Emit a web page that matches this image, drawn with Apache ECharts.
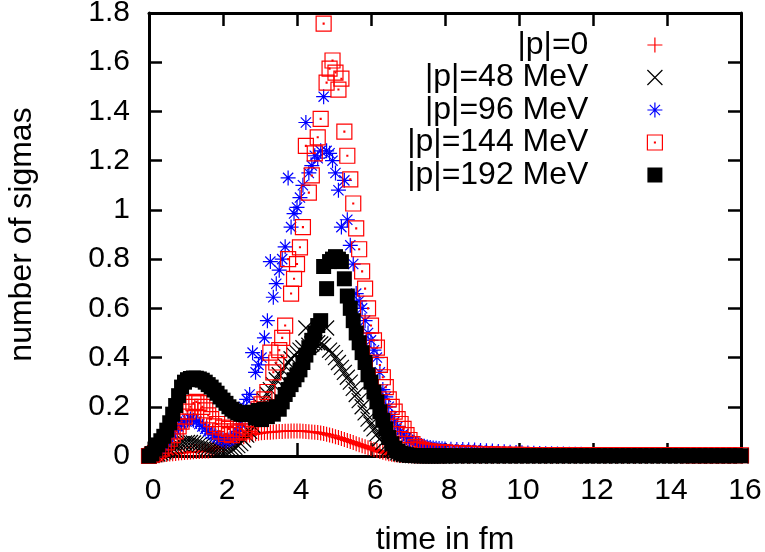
<!DOCTYPE html>
<html><head><meta charset="utf-8">
<script src="https://cdn.jsdelivr.net/npm/echarts@6/dist/echarts.min.js"></script>
<style>html,body{margin:0;padding:0;background:#fff}#c{width:765px;height:552px}</style>
</head><body><div id="c"></div>
<script>
const times = [
0,0.08,0.16,0.24,0.32,0.4,0.48,0.56,0.64,0.72,
0.8,0.88,0.96,1.04,1.12,1.2,1.28,1.36,1.44,1.52,
1.6,1.68,1.76,1.84,1.92,2,2.08,2.16,2.24,2.32,
2.4,2.48,2.56,2.64,2.72,2.8,2.88,2.96,3.04,3.12,
3.2,3.28,3.36,3.44,3.52,3.6,3.68,3.76,3.84,3.92,
4,4.08,4.16,4.24,4.32,4.4,4.48,4.56,4.64,4.72,
4.8,4.88,4.96,5.04,5.12,5.2,5.28,5.36,5.44,5.52,
5.6,5.68,5.76,5.84,5.92,6,6.08,6.16,6.24,6.32,
6.4,6.48,6.56,6.64,6.72,6.8,6.88,6.96,7.04,7.12,
7.2,7.28,7.36,7.44,7.52,7.6,7.68,7.76,7.84,7.92,
8,
8.16,8.32,8.48,8.64,8.8,8.96,9.12,9.28,9.44,9.6,
9.76,9.92,10.08,10.24,10.4,10.56,10.72,10.88,11.04,11.2,
11.36,11.52,11.68,11.84,12,12.16,12.32,12.48,12.64,12.8,
12.96,13.12,13.28,13.44,13.6,13.76,13.92,14.08,14.24,14.4,
14.56,14.72,14.88,15.04,15.2,15.36,15.52,15.68,15.84,16];
const sig_p0 = [
0,0.001,0.002,0.003,0.004,0.005,0.006,0.008,0.009,0.01,
0.012,0.013,0.014,0.015,0.016,0.017,0.018,0.018,0.019,0.02,
0.02,0.025,0.03,0.035,0.04,0.045,0.05,0.055,0.06,0.065,
0.07,0.074,0.078,0.082,0.085,0.088,0.09,0.092,0.094,0.095,
0.096,0.097,0.098,0.099,0.1,0.1,0.101,0.101,0.102,0.102,
0.102,0.102,0.101,0.1,0.099,0.098,0.097,0.095,0.093,0.091,
0.088,0.085,0.082,0.078,0.075,0.071,0.067,0.063,0.059,0.055,
0.05,0.046,0.042,0.038,0.034,0.03,0.026,0.022,0.018,0.015,
0.012,0.009,0.007,0.005,0.004,0.003,0.002,0.002,0.001,0.001,
0,0,0,0,0,0,0,0,0,0,
0,
0,0,0,0,0,0,0,0,0,0,
0,0,0,0,0,0,0,0,0,0,
0,0,0,0,0,0,0,0,0,0,
0,0,0,0,0,0,0,0,0,0,
0,0,0,0,0,0,0,0,0,0];
const sig_p48 = [
0,0.002,0.005,0.008,0.012,0.017,0.022,0.028,0.034,0.04,
0.045,0.05,0.053,0.055,0.055,0.053,0.05,0.046,0.042,0.038,
0.034,0.03,0.027,0.025,0.024,0.024,0.025,0.027,0.03,0.035,
0.042,0.05,0.065,0.085,0.1,0.125,0.15,0.17,0.2,0.225,
0.25,0.27,0.29,0.31,0.33,0.35,0.365,0.38,0.395,0.41,
0.42,0.43,0.44,0.52,0.45,0.455,0.46,0.46,0.455,0.45,
0.52,0.43,0.42,0.4,0.38,0.36,0.34,0.32,0.3,0.275,
0.25,0.225,0.2,0.175,0.15,0.13,0.11,0.09,0.07,0.055,
0.042,0.032,0.024,0.018,0.013,0.009,0.006,0.004,0.003,0.002,
0.001,0.001,0,0,0,0,0,0,0,0,
0,
0,0,0,0,0,0,0,0,0,0,
0,0,0,0,0,0,0,0,0,0,
0,0,0,0,0,0,0,0,0,0,
0,0,0,0,0,0,0,0,0,0,
0,0,0,0,0,0,0,0,0,0];
const sig_p96 = [
0,0.003,0.008,0.015,0.025,0.04,0.055,0.07,0.09,0.105,
0.12,0.13,0.14,0.145,0.15,0.145,0.14,0.13,0.12,0.11,
0.1,0.09,0.085,0.075,0.07,0.065,0.06,0.065,0.07,0.08,
0.1,0.13,0.2,0.23,0.25,0.42,0.34,0.37,0.4,0.48,
0.55,0.79,0.645,0.7,0.755,0.8,0.85,1.13,0.93,0.985,
1.01,1.05,1.1,1.355,1.15,1.18,1.22,1.21,1.24,1.46,
1.24,1.23,1.2,1.15,1.08,0.93,1.12,0.96,0.856,0.78,
0.66,0.63,0.6,0.55,0.5,0.47,0.43,0.4,0.34,0.27,
0.24,0.2,0.16,0.14,0.12,0.1,0.09,0.075,0.065,0.057,
0.05,0.046,0.043,0.04,0.037,0.035,0.033,0.031,0.03,0.029,
0.028,
0.027,0.026,0.026,0.025,0.024,0.022,0.021,0.02,0.018,0.017,
0.015,0.014,0.013,0.012,0.011,0.01,0.009,0.009,0.008,0.008,
0.007,0.007,0.007,0.006,0.006,0.006,0.006,0.005,0.005,0.005,
0.005,0.005,0.005,0.005,0.004,0.004,0.004,0.004,0.004,0.004,
0.004,0.004,0.004,0.004,0.004,0.004,0.004,0.004,0.004,0.004];
const sig_p144 = [
0,0.005,0.012,0.02,0.03,0.042,0.055,0.07,0.085,0.1,
0.12,0.14,0.16,0.18,0.2,0.215,0.22,0.215,0.2,0.185,
0.165,0.15,0.12,0.13,0.1,0.115,0.09,0.11,0.085,0.1,
0.095,0.11,0.1,0.12,0.13,0.15,0.17,0.19,0.21,0.23,
0.26,0.42,0.34,0.38,0.43,0.48,0.53,0.8,0.66,0.72,
0.78,0.848,0.93,1.26,1.07,1.14,1.23,1.295,1.37,1.757,
1.517,1.574,1.607,1.558,1.489,1.533,1.318,1.22,1.124,1.026,
0.925,0.84,0.75,0.68,0.6,0.53,0.47,0.44,0.37,0.32,
0.28,0.23,0.2,0.18,0.15,0.13,0.11,0.085,0.065,0.048,
0.037,0.03,0.025,0.022,0.02,0.018,0.017,0.016,0.015,0.015,
0.014,
0.013,0.012,0.011,0.01,0.009,0.008,0.008,0.007,0.006,0.006,
0.005,0.005,0.005,0.004,0.004,0.004,0.004,0.004,0.004,0.004,
0.004,0.004,0.004,0.004,0.004,0.004,0.004,0.004,0.004,0.004,
0.004,0.004,0.004,0.004,0.004,0.004,0.004,0.004,0.004,0.004,
0.003,0.003,0.003,0.003,0.003,0.003,0.003,0.003,0.003,0.003];
const sig_p192 = [
0,0.01,0.028,0.045,0.062,0.08,0.105,0.135,0.17,0.205,
0.245,0.28,0.3,0.31,0.315,0.317,0.316,0.313,0.308,0.3,
0.29,0.28,0.268,0.255,0.24,0.227,0.214,0.2,0.19,0.182,
0.175,0.17,0.168,0.172,0.176,0.178,0.155,0.185,0.148,0.19,
0.16,0.19,0.17,0.2,0.19,0.22,0.25,0.27,0.29,0.31,
0.33,0.35,0.38,0.41,0.44,0.47,0.5,0.53,0.55,0.77,
0.68,0.79,0.8,0.81,0.8,0.79,0.72,0.65,0.6,0.55,
0.5,0.46,0.42,0.38,0.33,0.3,0.26,0.22,0.18,0.145,
0.11,0.075,0.05,0.032,0.02,0.012,0.008,0.005,0.003,0.002,
0.002,0.001,0.001,0.001,0.001,0.001,0.001,0.001,0.001,0.001,
0.001,
0.001,0.001,0.001,0.001,0.001,0.001,0.001,0.001,0.001,0.001,
0.001,0.001,0.001,0.001,0.001,0.001,0.001,0.001,0.001,0.001,
0.001,0.001,0.001,0.001,0.001,0.001,0.001,0.001,0.001,0.001,
0.001,0.001,0.001,0.001,0.001,0.001,0.001,0.001,0.001,0.001,
0.001,0.001,0.001,0.001,0.001,0.001,0.001,0.001,0.001,0.001];

const seriesNames = ['|p|=0', '|p|=48 MeV', '|p|=96 MeV', '|p|=144 MeV', '|p|=192 MeV'];
const xTickLabels = [0, 2, 4, 6, 8, 10, 12, 14, 16];
const yTickLabels = [0, 0.2, 0.4, 0.6, 0.8, 1, 1.2, 1.4, 1.6, 1.8];
const xTitle = 'time in fm';
const yTitle = 'number of sigmas';

const allValues = [sig_p0, sig_p48, sig_p96, sig_p144, sig_p192];
const FONT = "'Liberation Sans', Arial, Helvetica, sans-serif";
const symbols = [
  'path://M0,5L10,5M5,0L5,10',
  'path://M0,0L10,10M10,0L0,10',
  'path://M5,0L5,10M0,5L10,5M1.6,1.6L8.4,8.4M8.4,1.6L1.6,8.4',
  'path://M0,0L10,0L10,10L0,10ZM4.7,4.7L5.3,4.7L5.3,5.3L4.7,5.3Z',
  'rect'
];
const colors = ['#ff0000', '#000000', '#0000ff', '#ff0000', '#000000'];
const filled = [false, false, false, false, true];

const xMin = xTickLabels[0], xMax = xTickLabels[xTickLabels.length - 1], xInt = xTickLabels[1] - xTickLabels[0];
const yMin = yTickLabels[0], yMax = yTickLabels[yTickLabels.length - 1], yInt = 0.2;

const chart = echarts.init(document.getElementById('c'), null, {renderer: 'canvas'});
const axisLineStyle = {show: true, onZero: false, lineStyle: {color: '#000', width: 3}};
const tickStyle = {show: true, inside: true, length: 13, lineStyle: {color: '#000', width: 2.5}};

const series = allValues.map((vals, k) => ({
  type: 'scatter', name: seriesNames[k],
  data: times.map((t, i) => [t, vals[i]]),
  symbol: symbols[k], symbolSize: 15, clip: false, animation: false,
  emphasis: {disabled: true},
  itemStyle: filled[k]
    ? {color: colors[k], borderWidth: 0, opacity: 1}
    : {color: 'rgba(0,0,0,0)', borderColor: colors[k], borderWidth: 1.2, opacity: 1}
}));

chart.setOption({
  animation: false,
  backgroundColor: '#fff',
  grid: {left: 149, right: 24, top: 13, bottom: 96, containLabel: false, outerBoundsMode: 'none'},
  legend: {
    orient: 'vertical', right: 102, top: 29, align: 'right',
    itemWidth: 15, itemHeight: 15, itemGap: 0.5, padding: 0, selectedMode: false,
    textStyle: {fontSize: 32, fontFamily: FONT, color: '#000', padding: [0, 54, 0, 0]},
    itemStyle: {borderWidth: 1.2},
    data: seriesNames.map((n, k) => ({name: n, icon: symbols[k]}))
  },
  xAxis: [{
    type: 'value', min: xMin, max: xMax, interval: xInt, position: 'bottom',
    axisLine: axisLineStyle, axisTick: tickStyle, splitLine: {show: false},
    axisLabel: {fontSize: 30, fontFamily: FONT, color: '#000', margin: 20, padding: [0, 0, 0, 8]},
    name: xTitle, nameLocation: 'middle', nameGap: 68, nameMoveOverlap: false,
    nameTextStyle: {fontSize: 32, fontFamily: FONT, color: '#000'}
  }, {
    type: 'value', min: xMin, max: xMax, interval: xInt, position: 'top',
    axisLine: axisLineStyle, axisTick: tickStyle, splitLine: {show: false},
    axisLabel: {show: false}
  }],
  yAxis: [{
    type: 'value', min: yMin, max: yMax, interval: yInt, position: 'left',
    axisLine: axisLineStyle, axisTick: tickStyle, splitLine: {show: false},
    axisLabel: {fontSize: 30, fontFamily: FONT, color: '#000', margin: 19},
    name: yTitle, nameLocation: 'middle', nameGap: 111, nameRotate: 90, nameMoveOverlap: false,
    nameTextStyle: {fontSize: 32, fontFamily: FONT, color: '#000'}
  }, {
    type: 'value', min: yMin, max: yMax, interval: yInt, position: 'right',
    axisLine: axisLineStyle, axisTick: tickStyle, splitLine: {show: false},
    axisLabel: {show: false}
  }],
  series: series
});
</script>
</body></html>
